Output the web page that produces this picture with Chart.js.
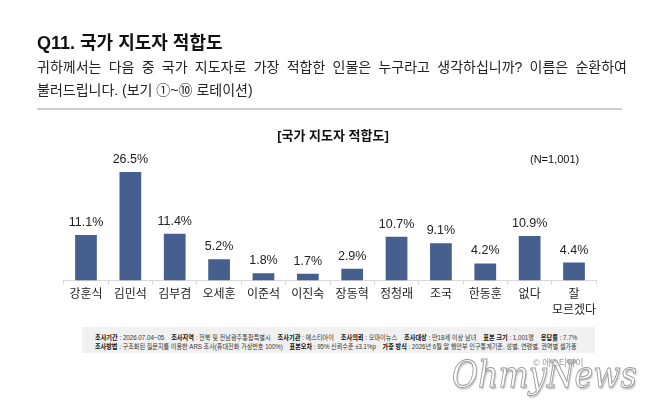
<!DOCTYPE html>
<html><head><meta charset="utf-8">
<script src="https://cdn.jsdelivr.net/npm/chart.js@4.4.1/dist/chart.umd.min.js"></script>
<style>
html,body{margin:0;padding:0;background:#fff;}
body{width:658px;height:420px;position:relative;overflow:hidden;font-family:"Liberation Sans","Noto Sans CJK KR",sans-serif;color:#111;}
#c{position:absolute;left:0;top:0;}
.t{position:absolute;white-space:nowrap;}
#title{left:37px;top:28px;font-size:18px;font-weight:bold;}
.sub{position:absolute;left:37px;font-size:14px;color:#222;}
#s1{top:56px;width:590px;text-align:justify;text-align-last:justify;white-space:normal;}
#s2{top:79px;}
#rule{position:absolute;left:37px;top:108px;width:585px;height:2px;background:#cfcfcf;}
#ctitle{left:0;width:666px;text-align:center;top:125px;font-size:13px;font-weight:bold;}
#n{left:530px;top:153px;font-size:11px;}
#foot{position:absolute;left:82px;top:327px;width:513px;height:26px;background:#f1f1f1;}
.fl{position:absolute;left:13px;font-size:7px;color:#333;white-space:nowrap;transform-origin:0 0;}
.fl b{font-weight:bold;color:#111;}
#wm{left:452px;top:352px;font-family:"DejaVu Serif",serif;font-style:italic;font-size:38px;color:#fff;-webkit-text-stroke:1px #9a9a9a;text-shadow:1px 2px 2px #bbb;transform-origin:0 0;}
#cp{left:533px;top:356px;font-size:9px;color:#999;}
</style></head>
<body>
<canvas id="c" width="658" height="420"></canvas>
<div class="t" id="title">Q11. 국가 지도자 적합도</div>
<div class="sub" id="s1">귀하께서는 다음 중 국가 지도자로 가장 적합한 인물은 누구라고 생각하십니까? 이름은 순환하여</div>
<div class="sub t" id="s2">불러드립니다. (보기 ①~⑩ 로테이션)</div>
<div id="rule"></div>
<div class="t" id="ctitle">[국가 지도자 적합도]</div>
<div class="t" id="n">(N=1,001)</div>
<div id="foot">
<div class="fl" style="top:5px"><b>조사기간</b> : 2026.07.04~05 &nbsp;&nbsp; <b>조사지역</b> : 전북 및 전남광주통합특별시 &nbsp;&nbsp; <b>조사기관</b> : 에스티아이 &nbsp;&nbsp; <b>조사의뢰</b> : 오마이뉴스 &nbsp;&nbsp; <b>조사대상</b> : 만18세 이상 남녀 &nbsp;&nbsp; <b>표본 크기</b> : 1,001명 &nbsp;&nbsp; <b>응답률</b> : 7.7%</div>
<div class="fl" style="top:14px"><b>조사방법</b> : 구조화된 질문지를 이용한 ARS 조사(휴대전화 가상번호 100%) &nbsp;&nbsp; <b>표본오차</b> : 95% 신뢰수준 ±3.1%p &nbsp;&nbsp; <b>가중 방식</b> : 2026년 6월 말 행안부 인구통계기준, 성별, 연령별, 권역별 셀가중</div>
</div>
<div class="t" id="wm">OhmyNews</div>
<div class="t" id="cp">© 에스티아이</div>
<script>
const categories = ['강훈식','김민석','김부겸','오세훈','이준석','이진숙','장동혁','정청래','조국','한동훈','없다',['잘','모르겠다']];
const values = [11.1,26.5,11.4,5.2,1.8,1.7,2.9,10.7,9.1,4.2,10.9,4.4];
const FONT = '"Liberation Sans","Noto Sans CJK KR",sans-serif';

function fitWidth(el, w){
  const sw = el.scrollWidth;
  if (sw > 0) el.style.transform = 'scaleX(' + (w / sw) + ')';
}
document.querySelectorAll('.fl').forEach(el => fitWidth(el, 482));
fitWidth(document.getElementById('wm'), 185);

const labelPlugin = {
  id:'vlabels',
  afterDatasetsDraw(chart){
    const ctx = chart.ctx;
    const meta = chart.getDatasetMeta(0);
    ctx.save();
    ctx.font = '12.5px ' + FONT;
    ctx.fillStyle = '#222';
    ctx.textAlign = 'center';
    ctx.textBaseline = 'middle';
    meta.data.forEach((bar,i)=>{
      ctx.fillText(values[i].toFixed(1)+'%', bar.x, bar.y - 12.5);
    });
    ctx.restore();
  }
};

new Chart(document.getElementById('c'), {
  type:'bar',
  data:{labels:categories, datasets:[{data:values, backgroundColor:'#45608f', barPercentage:0.98, categoryPercentage:0.5}]},
  options:{
    responsive:false, animation:false, devicePixelRatio:1,
    layout:{padding:{left:63.8,right:61.8,top:157.6,bottom:99}},
    plugins:{legend:{display:false},tooltip:{enabled:false},title:{display:false}},
    scales:{
      y:{display:false,min:0,max:30},
      x:{
        grid:{display:true,drawOnChartArea:false,drawTicks:true,tickLength:4,color:'#d9d9d9',offset:true},
        border:{display:true,color:'#d9d9d9',width:1},
        ticks:{color:'#222',padding:2,font:{size:12,family:FONT,lineHeight:1.35},maxRotation:0,autoSkip:false}
      }
    }
  },
  plugins:[labelPlugin]
});
</script>
</body></html>
